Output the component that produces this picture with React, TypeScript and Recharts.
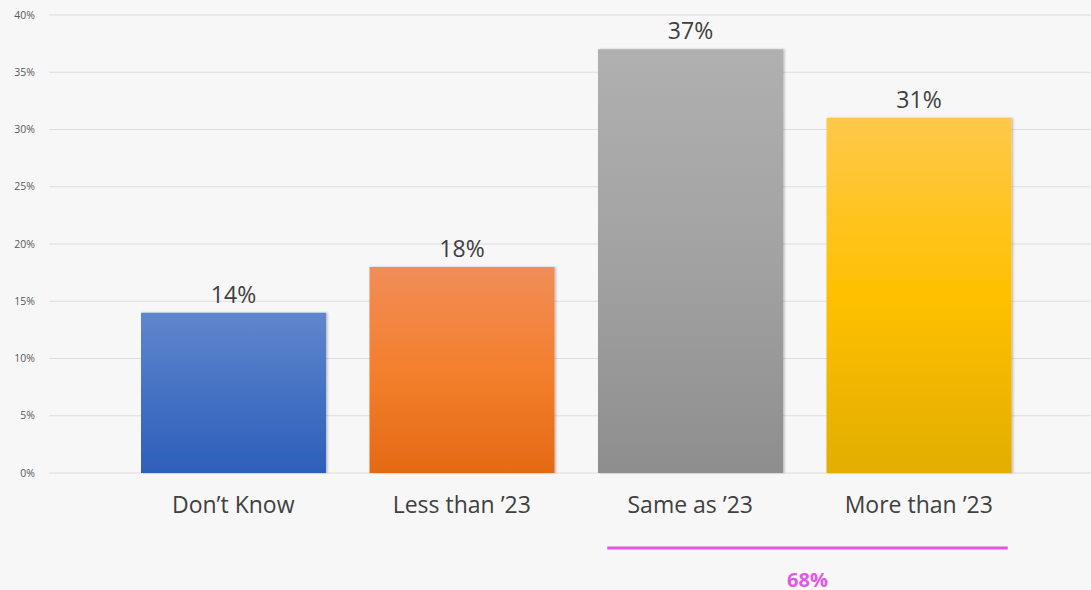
import React from 'react';
import { BarChart, Bar, XAxis, YAxis, CartesianGrid, LabelList, Cell } from 'recharts';

const categories = ['Don\u2019t Know', 'Less than \u201923', 'Same as \u201923', 'More than \u201923'];
const values = [14, 18, 37, 31];
const yTicks = [0, 5, 10, 15, 20, 25, 30, 35, 40];
const bracketLabel = '68%';
const bracketFrom = 'Same as \u201923';

const gradients = [
  { id: 'gBlue', stops: ['#6186cd', '#4472c4', '#2e5fb9'] },
  { id: 'gOrange', stops: ['#f08d57', '#f47f2e', '#e46a14'] },
  { id: 'gGray', stops: ['#b0b0b0', '#a2a2a2', '#8e8e8e'] },
  { id: 'gYellow', stops: ['#ffc84a', '#ffc000', '#e2ae00'] },
];

const data = categories.map((c, i) => ({ name: c, value: values[i] }));

const FONT = 'Open Sans, sans-serif';

const XTick = (props: any) => {
  const { x, y, payload } = props;
  const half = 114.25;
  const name = payload.value;
  return (
    <g>
      <text x={x} y={y + 32} textAnchor="middle" fill="#404040" fontSize={23} fontFamily={FONT}>
        {name}
      </text>
      {name === bracketFrom && (
        <g>
          <line x1={x - 83} x2={x + 2 * half + 89} y1={y + 67} y2={y + 67} stroke="#e456e4" strokeWidth={3} />
          <text x={x + half + 3} y={y + 106} textAnchor="middle" fill="#e456e4" fontSize={20} fontWeight="bold" fontFamily={FONT}>
            {bracketLabel}
          </text>
        </g>
      )}
    </g>
  );
};

export default function App() {
  return (
    <div style={{ position: 'absolute', left: 0, top: 0, width: 1091, height: 590, background: '#f7f7f7' }}>
      <BarChart width={1091} height={590} data={data} margin={{ top: 15, right: 0, left: 0, bottom: 0 }}>
        <defs>
          {gradients.map((g) => (
            <linearGradient key={g.id} id={g.id} x1="0" y1="0" x2="0" y2="1">
              <stop offset="0%" stopColor={g.stops[0]} />
              <stop offset="50%" stopColor={g.stops[1]} />
              <stop offset="100%" stopColor={g.stops[2]} />
            </linearGradient>
          ))}
          <filter id="shadow" x="-5%" y="-5%" width="110%" height="110%">
            <feDropShadow dx="1.5" dy="0" stdDeviation="1.2" floodColor="#000" floodOpacity="0.25" />
          </filter>
        </defs>
        <CartesianGrid vertical={false} stroke="#dedede" strokeWidth={1.2} />
        <XAxis
          dataKey="name"
          axisLine={false}
          tickLine={false}
          height={117}
          interval={0}
          padding={{ left: 70, right: 58 }}
          tick={<XTick />}
        />
        <YAxis
          domain={[0, 40]}
          ticks={yTicks}
          width={49}
          axisLine={false}
          tickLine={false}
          tickMargin={8}
          tickFormatter={(v: number) => `${v}%`}
          tick={{ fontSize: 10.5, fill: '#595959', fontFamily: FONT }}
        />
        <Bar dataKey="value" barSize={185} isAnimationActive={false} filter="url(#shadow)">
          {data.map((d, i) => (
            <Cell key={d.name} fill={`url(#${gradients[i].id})`} />
          ))}
          <LabelList
            dataKey="value"
            position="top"
            offset={10}
            formatter={(v: any) => `${v}%`}
            style={{ fontSize: 23, fill: '#404040', fontFamily: FONT }}
          />
        </Bar>
      </BarChart>
    </div>
  );
}
